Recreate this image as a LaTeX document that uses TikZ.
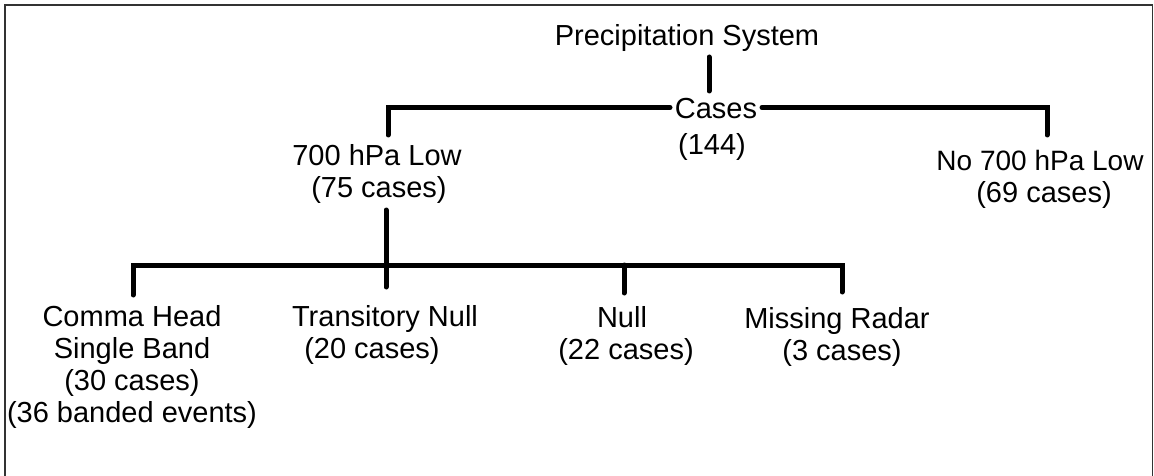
\documentclass[tikz,border=0pt]{standalone}
\usepackage{fontspec}
\setmainfont{Liberation Sans}
\begin{document}
\begin{tikzpicture}[x=1pt,y=-1pt,
  lbl/.style={inner sep=0pt, align=center, anchor=base, font=\fontsize{29}{32}\selectfont},
  branch/.style={line width=5pt, line cap=round, line join=miter},
  frame/.style={line width=1.6pt, draw=black!80}]
\useasboundingbox (0,0) rectangle (1154,476);
\draw[frame] (5,480) -- (5,5) -- (1152.5,5) -- (1152.5,480);

% anchors are at the baseline of the last line of each label
\node[lbl] (ps) at (687,46) {Precipitation System};
\node[lbl] (cases) at (716,155) {Cases\\[4pt]\hspace*{-8pt}(144)};
\node[lbl] (low) at (377,197) {700 hPa Low\\\hspace*{4pt}(75 cases)};
\node[lbl] (nolow) at (1040,202) {\fontsize{28}{32}\selectfont No 700 hPa Low\\\hspace*{8pt}(69 cases)};
\node[lbl] (ch) at (132,422) {Comma Head\\Single Band\\(30 cases)\\(36 banded events)};
\node[lbl] (tn) at (385,358) {Transitory Null\\(20 cases)\hspace*{26pt}};
\node[lbl] (nl) at (622,359) {Null\\\hspace*{8pt}(22 cases)};
\node[lbl] (mr) at (837,360) {Missing Radar\\\hspace*{10pt}(3 cases)};

\coordinate (psd) at (709,57);
\coordinate (casu) at (709,91);
\coordinate (casl) at (670,107.5);
\coordinate (casr) at (762,107.5);
\coordinate (lowu) at (388,135);
\coordinate (nolowu) at (1047,135);
\coordinate (lowd) at (386,210);
\coordinate (tnu) at (386,287);
\coordinate (chu) at (133,295);
\coordinate (nlu) at (624,293);
\coordinate (mru) at (842,292);
\coordinate (bar) at (0,265);

\draw[branch] (psd) -- (casu);
\draw[branch] (casl) -- (casl -| lowu) -- (lowu);
\draw[branch] (casr) -- (casr -| nolowu) -- (nolowu);
\draw[branch] (lowd) -- (tnu);
\draw[branch] (chu) -- (chu |- bar) -- (mru |- bar) -- (mru);
\draw[branch] (nlu |- bar) -- (nlu);
\end{tikzpicture}
\end{document}
